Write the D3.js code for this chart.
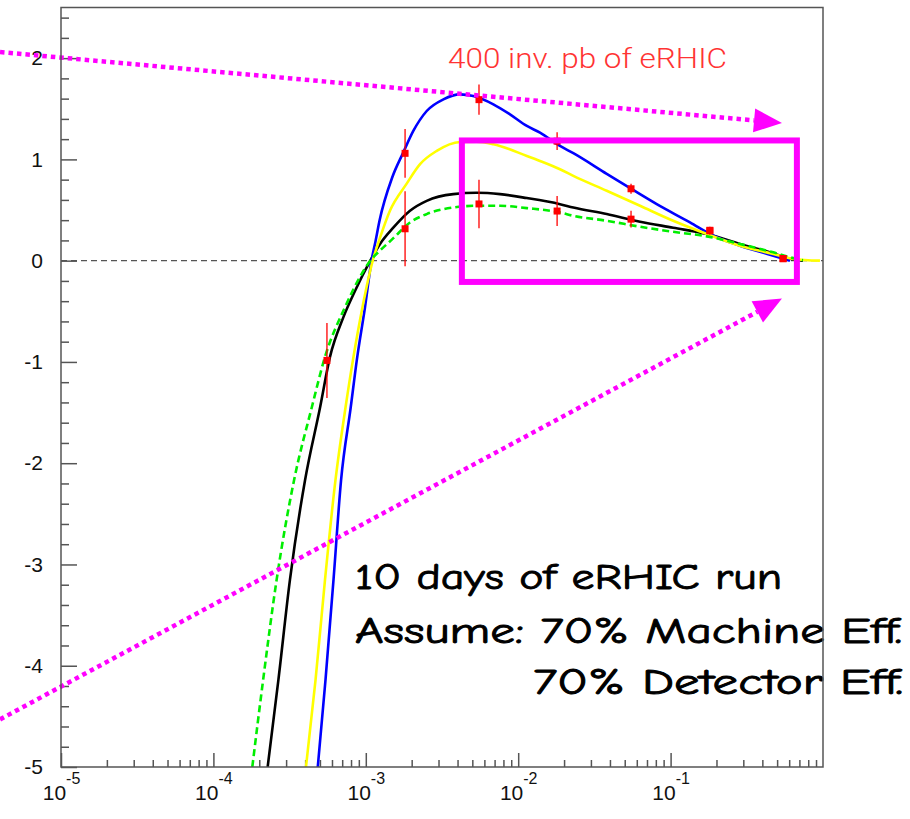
<!DOCTYPE html>
<html>
<head>
<meta charset="utf-8">
<script src="https://cdnjs.cloudflare.com/ajax/libs/d3/7.8.5/d3.min.js"></script>
<style>
body { margin: 0; background: #fff; }
.axis line { stroke: #555; stroke-width: 1.5; }
.axis text { font-family: "Liberation Sans", Arial, sans-serif; font-size: 21px; fill: #111; }
</style>
</head>
<body>
<div id="chart"></div>
<script>
let w = 910
let h = 819
let plot = { left: 61, right: 823, top: 7.5, bottom: 767 }

// curves: [x, value]
let blueCurve = [[4.84e-4, -5.0], [5.44e-4, -4.14], [6.14e-4, -3.15], [6.88e-4, -2.17], [7.96e-4, -1.45],
	[8.79e-4, -0.95], [9.88e-4, -0.46], [1.09e-3, 0], [1.16e-3, 0.197], [1.23e-3, 0.394], [1.49e-3, 0.821],
	[1.76e-3, 1.067], [2.05e-3, 1.281], [2.51e-3, 1.478], [3.23e-3, 1.593], [4.15e-3, 1.642], [5.07e-3, 1.626],
	[6.87e-3, 1.544], [8.83e-3, 1.445], [1.14e-2, 1.330], [1.39e-2, 1.264], [1.88e-2, 1.133], [2.30e-2, 1.061],
	[3.81e-2, 0.857], [5.56e-2, 0.706], [8.11e-2, 0.558], [0.134, 0.378], [0.191, 0.246], [0.285, 0.148],
	[0.472, 0.049], [0.607, 0.0]]
let yellowCurve = [[4.05e-4, -5.0], [4.68e-4, -4.14], [5.40e-4, -3.15], [6.32e-4, -2.17], [7.36e-4, -1.45],
	[8.30e-4, -0.95], [9.51e-4, -0.46], [1.11e-3, 0], [1.24e-3, 0.227], [1.44e-3, 0.493], [1.85e-3, 0.758],
	[2.27e-3, 0.953], [2.92e-3, 1.084], [4.15e-3, 1.172], [5.34e-3, 1.175], [6.87e-3, 1.150], [1.14e-2, 1.034],
	[1.39e-2, 0.985], [1.88e-2, 0.903], [2.30e-2, 0.837], [3.81e-2, 0.690], [6.30e-2, 0.542], [0.104, 0.394],
	[0.173, 0.263], [0.285, 0.148], [0.472, 0.066], [0.638, 0.017], [0.955, 0.0]]
let blackCurve = [[2.27e-4, -5.0], [2.67e-4, -4.14], [3.18e-4, -3.15], [3.99e-4, -2.17], [5.01e-4, -1.45],
	[5.82e-4, -0.95], [7.12e-4, -0.56], [8.49e-4, -0.30], [1.07e-3, 0], [1.24e-3, 0.165], [1.52e-3, 0.328],
	[1.95e-3, 0.493], [2.51e-3, 0.591], [3.75e-3, 0.657], [5.34e-3, 0.670], [7.60e-3, 0.657], [1.14e-2, 0.618],
	[1.88e-2, 0.558], [2.30e-2, 0.525], [3.81e-2, 0.460], [6.30e-2, 0.385], [0.104, 0.325], [0.173, 0.263],
	[0.285, 0.165], [0.472, 0.072], [0.607, 0.020], [0.739, 0.0]]
let greenCurve = [[1.80e-4, -5.0], [2.12e-4, -4.14], [2.60e-4, -3.15], [3.38e-4, -2.17], [4.42e-4, -1.45],
	[5.40e-4, -0.95], [7.30e-4, -0.46], [9.40e-4, -0.13], [1.07e-3, 0], [1.24e-3, 0.10], [1.51e-3, 0.22],
	[1.95e-3, 0.377], [2.51e-3, 0.46], [3.75e-3, 0.525], [5.34e-3, 0.542], [7.60e-3, 0.542], [1.14e-2, 0.519],
	[1.88e-2, 0.476], [2.30e-2, 0.443], [3.81e-2, 0.394], [6.30e-2, 0.335], [0.104, 0.285], [0.173, 0.240],
	[0.285, 0.165], [0.472, 0.082], [0.607, 0.033], [0.739, 0.005]]

// pseudo data points with errors
let pointX = [5.56e-4, 1.81e-3, 5.53e-3, 1.80e-2, 5.50e-2, 0.181, 0.547]
let upperY = [null, 1.06, 1.59, 1.18, 0.71, 0.30, 0.02]
let upperErr = [null, 0.24, 0.15, 0.087, 0.05, 0.02, 0.01]
let lowerY = [-0.985, 0.315, 0.56, 0.49, 0.41, 0.295, 0.02]
let lowerErr = [0.37, 0.37, 0.24, 0.148, 0.083, 0.04, 0.02]

// magenta box and arrows, in data units
let boxX = [4.27e-3, 0.674]
let boxY = [-0.21, 1.187]
let arrows = [
	[[3.98e-6, 2.06], [0.538, 1.36]],
	[[3.98e-6, -4.53], [0.538, -0.374]]
]

let yMajor = [-5, -4, -3, -2, -1, 0, 1, 2]
let xMajor = [1e-5, 1e-4, 1e-3, 1e-2, 1e-1]
let title = "400 inv. pb of eRHIC"
let notes = ["10 days of eRHIC run", "Assume: 70% Machine Eff.", "70% Detector Eff."]

let svg = d3.select("#chart")
	.append("svg")
	.attr("width", w)
	.attr("height", h)
	.style("background", "#fff")

let x = d3.scaleLog()
	.domain([1e-5, 1])
	.range([plot.left, plot.right])

let y = d3.scaleLinear()
	.domain([-5, 2.5])
	.range([plot.bottom, plot.top])

svg.append("clipPath")
	.attr("id", "clip")
	.append("rect")
	.attr("x", plot.left)
	.attr("y", plot.top)
	.attr("width", plot.right - plot.left)
	.attr("height", plot.bottom - plot.top)

// y axis, major and minor ticks pointing inwards
let yMinor = d3.range(-50, 25, 2).map(v => v / 10).filter(v => !yMajor.includes(v))
svg.append("g")
	.attr("class", "axis")
	.attr("transform", "translate(" + plot.left + ",0)")
	.call(d3.axisLeft(y).tickValues(yMajor).tickSize(-16).tickSizeOuter(0).tickPadding(18).tickFormat(d => String(d)))
	.call(g => g.select(".domain").remove())
svg.append("g")
	.attr("class", "axis")
	.attr("transform", "translate(" + plot.left + ",0)")
	.call(d3.axisLeft(y).tickValues(yMinor).tickSize(-8).tickSizeOuter(0).tickFormat(""))
	.call(g => g.select(".domain").remove())

// x axis
let xMinor = []
for (let e = -5; e < 0; e++) {
	for (let k = 2; k < 10; k++) xMinor.push(k * Math.pow(10, e))
}
svg.append("g")
	.attr("class", "axis")
	.attr("transform", "translate(0," + plot.bottom + ")")
	.call(d3.axisBottom(x).tickValues(xMajor).tickSize(-14).tickSizeOuter(0))
	.call(g => g.select(".domain").remove())
	.call(g => g.selectAll(".tick text")
		.text(null)
		.attr("y", 33)
		.attr("dy", null)
		.each(function(d) {
			let t = d3.select(this)
			t.append("tspan").text("10")
			t.append("tspan").attr("dy", -16).attr("font-size", 16).text(Math.round(Math.log10(d)))
		}))
svg.append("g")
	.attr("class", "axis")
	.attr("transform", "translate(0," + plot.bottom + ")")
	.call(d3.axisBottom(x).tickValues(xMinor).tickSize(-7).tickSizeOuter(0).tickFormat(""))
	.call(g => g.select(".domain").remove())

// zero line
svg.append("line")
	.attr("x1", plot.left)
	.attr("x2", plot.right)
	.attr("y1", y(0))
	.attr("y2", y(0))
	.attr("stroke", "#555")
	.attr("stroke-width", 1.3)
	.attr("stroke-dasharray", "6 4")

let line = d3.line()
	.x(d => x(d[0]))
	.y(d => y(d[1]))
	.curve(d3.curveMonotoneX)

let curves = svg.append("g").attr("clip-path", "url(#clip)")
let drawCurve = (data, color, dash) => {
	curves.append("path")
		.datum(data)
		.attr("d", line)
		.attr("fill", "none")
		.attr("stroke", color)
		.attr("stroke-width", 2.6)
		.attr("stroke-dasharray", dash)
}
drawCurve(blackCurve, "#000", null)
drawCurve(blueCurve, "#0000ff", null)
drawCurve(yellowCurve, "#ffff00", null)
drawCurve(greenCurve, "#00ee00", "7 4")

//Create points with error bars
let points = []
pointX.forEach((px, i) => {
	if (upperY[i] != null) points.push({ x: px, v: upperY[i], e: upperErr[i] })
	points.push({ x: px, v: lowerY[i], e: lowerErr[i] })
})
let pts = svg.append("g")
pts.selectAll("line")
	.data(points)
	.join("line")
	.attr("x1", d => x(d.x))
	.attr("x2", d => x(d.x))
	.attr("y1", d => y(d.v - d.e))
	.attr("y2", d => y(d.v + d.e))
	.attr("stroke", "#ff0000")
	.attr("stroke-width", 1.3)
pts.selectAll("rect")
	.data(points)
	.join("rect")
	.attr("x", d => x(d.x) - 3.5)
	.attr("y", d => y(d.v) - 3.5)
	.attr("width", 7)
	.attr("height", 7)
	.attr("fill", "#ff0000")

// magenta box
svg.append("rect")
	.attr("x", x(boxX[0]))
	.attr("y", y(boxY[1]))
	.attr("width", x(boxX[1]) - x(boxX[0]))
	.attr("height", y(boxY[0]) - y(boxY[1]))
	.attr("fill", "none")
	.attr("stroke", "#ff00ff")
	.attr("stroke-width", 6)

// dotted arrows
arrows.forEach(a => {
	let x0 = x(a[0][0]), y0 = y(a[0][1])
	let x1 = x(a[1][0]), y1 = y(a[1][1])
	let len = Math.hypot(x1 - x0, y1 - y0)
	let ux = (x1 - x0) / len, uy = (y1 - y0) / len
	let bx = x1 - 28 * ux, by = y1 - 28 * uy
	svg.append("line")
		.attr("x1", x0).attr("y1", y0)
		.attr("x2", bx).attr("y2", by)
		.attr("stroke", "#ff00ff")
		.attr("stroke-width", 4.5)
		.attr("stroke-dasharray", "4.5 4")
	svg.append("path")
		.attr("d", "M" + x1 + "," + y1 + "L" + (bx - 12 * uy) + "," + (by + 12 * ux) + "L" + (bx + 12 * uy) + "," + (by - 12 * ux) + "Z")
		.attr("fill", "#ff00ff")
})

//Create labels
svg.append("text")
	.attr("x", 448)
	.attr("y", 68)
	.attr("font-family", "Roboto, 'Liberation Sans', sans-serif")
	.attr("font-weight", 300)
	.attr("font-size", 28)
	.attr("fill", "#ff3333")
	.attr("textLength", 279)
	.attr("lengthAdjust", "spacingAndGlyphs")
	.text(title)

let noteX = [355, 355, 533]
let noteY = [589, 643, 694]
let noteLen = [427, 547, 370]
svg.selectAll(".note")
	.data(notes)
	.join("text")
	.attr("class", "note")
	.attr("x", (d, i) => noteX[i])
	.attr("y", (d, i) => noteY[i])
	.attr("font-family", "'Comic Sans MS', 'Comic Neue', 'DejaVu Sans', sans-serif")
	.attr("font-size", 37)
	.attr("fill", "#000")
	.attr("stroke", "#000")
	.attr("stroke-width", 0.9)
	.attr("textLength", (d, i) => noteLen[i])
	.attr("lengthAdjust", "spacingAndGlyphs")
	.text(d => d)

// frame
svg.append("rect")
	.attr("x", plot.left)
	.attr("y", plot.top)
	.attr("width", plot.right - plot.left)
	.attr("height", plot.bottom - plot.top)
	.attr("fill", "none")
	.attr("stroke", "#555")
	.attr("stroke-width", 1.5)
</script>
</body>
</html>
